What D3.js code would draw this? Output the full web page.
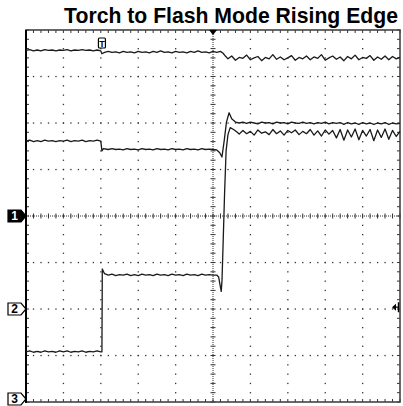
<!DOCTYPE html>
<html>
<head>
<meta charset="utf-8">
<script src="https://cdn.jsdelivr.net/npm/d3@7"></script>
<style>
  body { margin: 0; background: #fff; }
  svg { display: block; }
</style>
</head>
<body>
<script>
var w = 403;
var h = 406;

var box = { left: 26, right: 400, top: 30, bottom: 402 };

var title = "Torch to Flash Mode Rising Edge";

// screen divisions: 10 across, 8 down (value 0 = centre line)
var xDivs = 10;
var yDivs = 8;

// channel reference markers (label, level in divisions)
var channels = [
    { label: "1", level: 0, filled: true },
    { label: "2", level: -2, filled: false },
    { label: "3", level: -4, filled: false }
];

var triggerTime = 2.03;     // "T" marker
var triggerLevel = -1.96;   // right side arrow

// traces: [time in divisions, value in divisions]
var traceTop = [
    [0,3.56],[0.1,3.58],[0.2,3.55],[0.3,3.57],[0.4,3.55],[0.5,3.58],[0.6,3.56],[0.7,3.57],
    [0.8,3.55],[0.9,3.57],[1.0,3.56],[1.1,3.58],[1.2,3.55],[1.3,3.57],[1.4,3.56],[1.5,3.58],
    [1.6,3.56],[1.7,3.57],[1.8,3.55],[1.9,3.57],[2.0,3.55],[2.03,3.49],[2.1,3.52],[2.2,3.54],
    [2.3,3.52],[2.4,3.53],[2.5,3.51],[2.6,3.54],[2.7,3.52],[2.8,3.53],[2.9,3.51],[3.0,3.54],
    [3.1,3.52],[3.2,3.53],[3.3,3.51],[3.4,3.54],[3.5,3.52],[3.6,3.55],[3.7,3.52],[3.8,3.53],
    [3.9,3.51],[4.0,3.54],[4.1,3.52],[4.2,3.53],[4.3,3.51],[4.4,3.54],[4.5,3.52],[4.6,3.55],
    [4.7,3.52],[4.8,3.53],[4.9,3.51],[5.0,3.54],[5.1,3.52],[5.2,3.54],[5.27,3.50],[5.33,3.44],
    [5.4,3.38],[5.5,3.44],[5.6,3.35],[5.7,3.41],[5.8,3.39],[5.9,3.46],[6.0,3.36],[6.1,3.40],
    [6.2,3.43],[6.3,3.34],[6.4,3.41],[6.5,3.38],[6.6,3.47],[6.7,3.37],[6.8,3.42],[6.9,3.36],
    [7.0,3.40],[7.1,3.45],[7.2,3.35],[7.3,3.41],[7.4,3.38],[7.5,3.44],[7.6,3.36],[7.7,3.42],
    [7.8,3.39],[7.9,3.47],[8.0,3.35],[8.1,3.40],[8.2,3.44],[8.3,3.37],[8.4,3.42],[8.5,3.34],
    [8.6,3.43],[8.7,3.38],[8.8,3.46],[8.9,3.36],[9.0,3.41],[9.1,3.39],[9.2,3.45],[9.3,3.35],
    [9.4,3.42],[9.5,3.37],[9.6,3.44],[9.7,3.36],[9.8,3.43],[9.9,3.38],[10,3.41]
];

var traceMid = [
    [0,1.61],[0.1,1.63],[0.2,1.60],[0.3,1.62],[0.4,1.60],[0.5,1.63],[0.6,1.61],[0.7,1.62],
    [0.8,1.60],[0.9,1.62],[1.0,1.61],[1.1,1.63],[1.2,1.60],[1.3,1.62],[1.4,1.61],[1.5,1.63],
    [1.6,1.60],[1.7,1.62],[1.8,1.61],[1.9,1.63],[2.0,1.61],[2.03,1.40],[2.07,1.45],[2.2,1.43],
    [2.3,1.45],[2.4,1.43],[2.5,1.44],[2.6,1.42],[2.7,1.45],[2.8,1.43],[2.9,1.44],[3.0,1.42],
    [3.1,1.45],[3.2,1.43],[3.3,1.44],[3.4,1.42],[3.5,1.45],[3.6,1.43],[3.7,1.44],[3.8,1.42],
    [3.9,1.45],[4.0,1.43],[4.1,1.44],[4.2,1.42],[4.3,1.45],[4.4,1.43],[4.5,1.44],[4.6,1.42],
    [4.7,1.45],[4.8,1.43],[4.9,1.44],[5.0,1.43],[5.1,1.42],[5.18,1.36],[5.24,1.27],[5.3,1.62],
    [5.36,2.02],[5.43,2.22],[5.5,2.09],[5.6,2.02],[5.7,2.00],[5.8,2.02],[5.9,1.99],[6.0,2.02],
    [6.1,2.00],[6.2,1.98],[6.3,2.02],[6.4,2.00],[6.5,2.01],[6.6,1.98],[6.7,2.02],[6.8,2.00],
    [6.9,2.01],[7.0,1.98],[7.1,2.02],[7.2,2.00],[7.3,1.99],[7.4,2.02],[7.5,1.99],[7.6,2.01],
    [7.7,1.98],[7.8,2.01],[7.9,1.99],[8.0,2.02],[8.1,1.98],[8.2,2.01],[8.3,1.99],[8.4,2.01],
    [8.5,1.97],[8.6,2.01],[8.7,1.98],[8.8,2.00],[8.9,1.97],[9.0,2.01],[9.1,1.98],[9.2,2.00],
    [9.3,1.97],[9.4,2.00],[9.5,1.98],[9.6,2.01],[9.7,1.97],[9.8,2.00],[9.9,1.98],[10,1.99]
];

var traceLow = [
    [0,-2.92],[0.1,-2.90],[0.2,-2.93],[0.3,-2.91],[0.4,-2.93],[0.5,-2.90],[0.6,-2.92],[0.7,-2.91],
    [0.8,-2.93],[0.9,-2.90],[1.0,-2.92],[1.1,-2.90],[1.2,-2.93],[1.3,-2.91],[1.4,-2.92],[1.5,-2.90],
    [1.6,-2.93],[1.7,-2.91],[1.8,-2.92],[1.9,-2.90],[2.0,-2.92],[2.03,-2.92],[2.04,-1.14],
    [2.1,-1.24],[2.2,-1.27],[2.3,-1.25],[2.4,-1.28],[2.5,-1.26],[2.6,-1.27],[2.7,-1.25],
    [2.8,-1.28],[2.9,-1.26],[3.0,-1.28],[3.1,-1.25],[3.2,-1.27],[3.3,-1.26],[3.4,-1.28],
    [3.5,-1.25],[3.6,-1.27],[3.7,-1.26],[3.8,-1.28],[3.9,-1.25],[4.0,-1.27],[4.1,-1.26],
    [4.2,-1.28],[4.3,-1.25],[4.4,-1.27],[4.5,-1.26],[4.6,-1.28],[4.7,-1.25],[4.8,-1.27],
    [4.9,-1.26],[5.0,-1.27],[5.1,-1.27],[5.15,-1.31],[5.22,-1.62],[5.24,-1.40],[5.27,-0.60],
    [5.31,0.50],[5.35,1.40],[5.4,1.75],[5.46,1.90],[5.55,1.86],[5.65,1.80],[5.7,1.76],
    [5.8,1.84],[5.9,1.77],[6.0,1.82],[6.1,1.74],[6.2,1.85],[6.3,1.78],[6.4,1.81],[6.5,1.75],
    [6.6,1.86],[6.7,1.77],[6.8,1.83],[6.9,1.74],[7.0,1.84],[7.1,1.79],[7.2,1.85],[7.3,1.75],
    [7.4,1.82],[7.5,1.77],[7.6,1.86],[7.7,1.74],[7.8,1.83],[7.9,1.72],[8.0,1.85],[8.1,1.76],
    [8.2,1.84],[8.3,1.68],[8.4,1.86],[8.5,1.63],[8.6,1.85],[8.7,1.70],[8.8,1.87],[8.9,1.64],
    [9.0,1.84],[9.1,1.72],[9.2,1.86],[9.3,1.62],[9.4,1.85],[9.5,1.69],[9.6,1.87],[9.7,1.65],
    [9.8,1.84],[9.9,1.71],[10,1.82]
];

var x = d3.scaleLinear().domain([0, xDivs]).range([box.left, box.right]);
var y = d3.scaleLinear().domain([-yDivs / 2, yDivs / 2]).range([box.bottom, box.top]);

var svg = d3.select("body")
    .append("svg")
    .attr("width", w)
    .attr("height", h);

// title
svg.append("text")
    .attr("x", 398)
    .attr("y", 22.5)
    .attr("text-anchor", "end")
    .style("font-family", "'Liberation Sans', Arial, sans-serif")
    .style("font-weight", "bold")
    .style("font-size", "21.2px")
    .text(title);

var minorX = d3.range(0, xDivs * 5 + 1).map(function(i){ return i / 5; });
var minorY = d3.range(0, yDivs * 5 + 1).map(function(i){ return -yDivs / 2 + i / 5; });
var grid = svg.append("g");

// dotted grid lines
d3.range(1, xDivs).forEach(function(d){
    if (d === xDivs / 2) return;
    grid.selectAll(null)
        .data(minorY.slice(1, -1))
        .enter()
        .append("rect")
        .attr("x", x(d) - 0.6)
        .attr("y", function(v){ return y(v) - 0.6; })
        .attr("width", 1.3)
        .attr("height", 1.3)
        .attr("fill", "#333");
});
d3.range(1, yDivs).forEach(function(d){
    var v = -yDivs / 2 + d;
    if (v === 0) return;
    grid.selectAll(null)
        .data(minorX.slice(1, -1))
        .enter()
        .append("rect")
        .attr("x", function(t){ return x(t) - 0.6; })
        .attr("y", y(v) - 0.6)
        .attr("width", 1.3)
        .attr("height", 1.3)
        .attr("fill", "#333");
});

// centre cross with ticks
grid.append("line")
    .attr("x1", box.left).attr("x2", box.right)
    .attr("y1", y(0)).attr("y2", y(0))
    .attr("stroke", "#333").attr("stroke-dasharray", "1,1");
grid.append("line")
    .attr("x1", x(5)).attr("x2", x(5))
    .attr("y1", box.top).attr("y2", box.bottom)
    .attr("stroke", "#333").attr("stroke-dasharray", "1,1");
grid.selectAll(null)
    .data(minorX)
    .enter()
    .append("line")
    .attr("x1", function(t){ return x(t); })
    .attr("x2", function(t){ return x(t); })
    .attr("y1", y(0) - 2.5).attr("y2", y(0) + 2.5)
    .attr("stroke", "#333");
grid.selectAll(null)
    .data(minorY)
    .enter()
    .append("line")
    .attr("y1", function(v){ return y(v); })
    .attr("y2", function(v){ return y(v); })
    .attr("x1", x(5) - 2.5).attr("x2", x(5) + 2.5)
    .attr("stroke", "#333");

// border ticks
grid.selectAll(null)
    .data(minorX)
    .enter()
    .append("path")
    .attr("d", function(t){
        return "M" + x(t) + "," + box.top + "v3M" + x(t) + "," + box.bottom + "v-3";
    })
    .attr("stroke", "#333");
grid.selectAll(null)
    .data(minorY)
    .enter()
    .append("path")
    .attr("d", function(v){
        return "M" + box.left + "," + y(v) + "h3M" + box.right + "," + y(v) + "h-3";
    })
    .attr("stroke", "#333");

// frame
svg.append("rect")
    .attr("x", box.left)
    .attr("y", box.top)
    .attr("width", box.right - box.left)
    .attr("height", box.bottom - box.top)
    .attr("fill", "none")
    .attr("stroke", "#444")
    .attr("stroke-width", 1.6);
svg.append("line")
    .attr("x1", box.left).attr("x2", box.left)
    .attr("y1", box.top).attr("y2", box.bottom + 1)
    .attr("stroke", "#000").attr("stroke-width", 2);

// traces
var line = d3.line()
    .x(function(d){ return x(d[0]); })
    .y(function(d){ return y(d[1]); });

[traceTop, traceMid, traceLow].forEach(function(tr){
    svg.append("path")
        .datum(tr)
        .attr("d", line)
        .attr("fill", "none")
        .attr("stroke", "#1a1a1a")
        .attr("stroke-width", 1.3)
        .attr("stroke-linejoin", "round");
});

// channel markers (the bottom one is kept inside the window)
channels.forEach(function(c){
    var cy = Math.min(y(c.level), h - 7);
    svg.append("path")
        .attr("d", "M8," + (cy - 6) + "H21L26," + cy + "L21," + (cy + 6) + "H8Z")
        .attr("fill", c.filled ? "#000" : "#fff")
        .attr("stroke", "#000")
        .attr("stroke-width", 1.2);
    svg.append("text")
        .attr("x", 14.5)
        .attr("y", cy + 4)
        .attr("text-anchor", "middle")
        .style("font-family", "'Liberation Sans', Arial, sans-serif")
        .style("font-weight", "bold")
        .style("font-size", "12px")
        .attr("fill", c.filled ? "#fff" : "#000")
        .text(c.label);
});

// trigger position arrow on top edge
svg.append("path")
    .attr("d", "M" + (x(5) - 4) + "," + box.top + "h8l-4,5z")
    .attr("fill", "#000");

// T marker
var tx = x(triggerTime);
svg.append("rect")
    .attr("x", tx - 3.5)
    .attr("y", 38)
    .attr("width", 7)
    .attr("height", 10)
    .attr("rx", 1)
    .attr("fill", "#fff")
    .attr("stroke", "#000")
    .attr("stroke-width", 1.2);
svg.append("text")
    .attr("x", tx)
    .attr("y", 46.5)
    .attr("text-anchor", "middle")
    .style("font-family", "'Liberation Sans', Arial, sans-serif")
    .style("font-weight", "bold")
    .style("font-size", "9px")
    .text("T");

// trigger level arrow on right edge
var ly = y(triggerLevel);
svg.append("path")
    .attr("d", "M" + (box.right - 8) + "," + ly + "l4,-3.5v7z")
    .attr("fill", "#000");
svg.append("path")
    .attr("d", "M" + (box.right - 5) + "," + ly + "H" + (box.right - 1) + "M" + (box.right - 1.5) + "," + (ly - 5) + "v10")
    .attr("stroke", "#000")
    .attr("stroke-width", 1.4);
</script>
</body>
</html>
